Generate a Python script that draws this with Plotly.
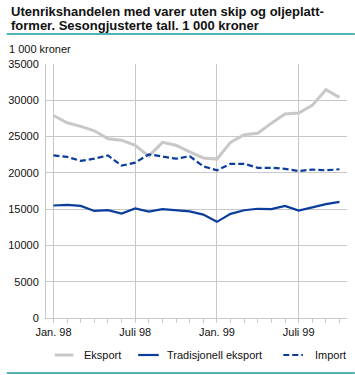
import plotly.graph_objects as go

months = ["Jan. 98", "Feb. 98", "Mar. 98", "Apr. 98", "Mai 98", "Juni 98",
          "Juli 98", "Aug. 98", "Sep. 98", "Okt. 98", "Nov. 98", "Des. 98",
          "Jan. 99", "Feb. 99", "Mar. 99", "Apr. 99", "Mai 99", "Juni 99",
          "Juli 99", "Aug. 99", "Sep. 99", "Okt. 99"]

eksport = [27900, 26900, 26400, 25800, 24700, 24500, 23800, 22300, 24200, 23800,
           22900, 22050, 21900, 24200, 25250, 25450, 26850, 28100, 28250, 29300,
           31450, 30400]
tradisjonell = [15500, 15600, 15450, 14750, 14850, 14400, 15100, 14650, 15000, 14800,
                14700, 14250, 13250, 14350, 14850, 15050, 15000, 15450, 14800, 15250,
                15700, 16000]
importv = [22400, 22200, 21650, 21950, 22400, 21000, 21400, 22550, 22250, 21950,
           22300, 20900, 20350, 21250, 21250, 20700, 20700, 20550, 20250, 20450,
           20350, 20500]

tick_idx = [0, 6, 12, 18]
tick_text = ["Jan. 98", "Juli 98", "Jan. 99", "Juli 99"]
y_ticks = [0, 5000, 10000, 15000, 20000, 25000, 30000, 35000]
series_names = ["Eksport", "Tradisjonell eksport", "Import"]
title_lines = ["Utenrikshandelen med varer uten skip og oljeplatt-",
               "former. Sesongjusterte tall. 1 000 kroner"]

x = list(range(len(months)))
blue = "#0a3d9c"
grey = "#c8c8c8"
teal = "#1a9a9a"
FONT = "Liberation Sans"
import_dash = "6px,3px"

W, H = 355, 375
L, R, T, B = 40, 8, 64, 57
pw, ph = W - L - R, H - T - B

def py2p(py):
    return (H - B - py) / ph

def px2p(pxx):
    return (pxx - L) / pw

fig = go.Figure()
fig.add_trace(go.Scatter(x=x, y=eksport, name=series_names[0], mode="lines",
                         line=dict(color=grey, width=3), hovertext=months, showlegend=False))
fig.add_trace(go.Scatter(x=x, y=tradisjonell, name=series_names[1], mode="lines",
                         line=dict(color=blue, width=2.2), hovertext=months, showlegend=False))
fig.add_trace(go.Scatter(x=x, y=importv, name=series_names[2], mode="lines",
                         line=dict(color=blue, width=2.2, dash=import_dash), hovertext=months,
                         showlegend=False))

annotations = [
    dict(text=title_lines[0], xref="paper", yref="paper", x=px2p(2), xanchor="left",
         y=py2p(12), yanchor="middle", showarrow=False,
         font=dict(family=FONT, size=13, color="#111111", weight="bold")),
    dict(text=title_lines[1], xref="paper", yref="paper", x=px2p(2), xanchor="left",
         y=py2p(25), yanchor="middle", showarrow=False,
         font=dict(family=FONT, size=13, color="#111111", weight="bold")),
    dict(text="1 000 kroner", xref="paper", yref="paper", x=px2p(0), xanchor="left",
         y=py2p(49), yanchor="middle", showarrow=False, font=dict(family=FONT, size=11)),
]

shapes = [
    dict(type="line", xref="paper", yref="paper", x0=px2p(0), x1=px2p(W),
         y0=py2p(34), y1=py2p(34), line=dict(color=teal, width=1.5)),
    dict(type="line", xref="paper", yref="paper", x0=px2p(0), x1=px2p(W),
         y0=py2p(373), y1=py2p(373), line=dict(color=teal, width=1.5)),
]

# legend (manual, to match the reference's compact layout)
leg_y = 355
leg_items = [
    (series_names[0], 49, 68, 77, dict(color=grey, width=3)),
    (series_names[1], 134, 155, 161, dict(color=blue, width=2.2)),
    (series_names[2], 282, 302, 312, dict(color=blue, width=2.2, dash=import_dash)),
]
for name, x0, x1, tx, ln in leg_items:
    shapes.append(dict(type="line", xref="paper", yref="paper", x0=px2p(x0), x1=px2p(x1),
                       y0=py2p(leg_y), y1=py2p(leg_y), line=ln))
    annotations.append(dict(text=name, xref="paper", yref="paper", x=px2p(tx), xanchor="left",
                            y=py2p(leg_y), yanchor="middle", showarrow=False,
                            font=dict(family=FONT, size=11)))

fig.update_layout(
    width=W, height=H,
    margin=dict(l=L, r=R, t=T, b=B),
    paper_bgcolor="white", plot_bgcolor="white",
    font=dict(family=FONT, size=11, color="#111111"),
    showlegend=False,
    xaxis=dict(range=[-0.55, len(months) - 0.45], tickvals=tick_idx, ticktext=tick_text,
               showgrid=True, gridcolor=grey, gridwidth=1,
               showline=True, linecolor=grey, linewidth=1,
               ticks="outside", ticklen=4, tickcolor=grey, zeroline=False,
               minor=dict(dtick=1, tick0=0, ticks="outside", ticklen=4, tickcolor=grey, showgrid=False),
               tickfont=dict(size=11)),
    yaxis=dict(range=[0, 35000], tickvals=y_ticks, ticktext=[str(v) for v in y_ticks],
               showgrid=True, gridcolor=grey, gridwidth=1,
               showline=True, linecolor=grey, linewidth=1,
               ticks="", zeroline=False, ticklabelstandoff=4,
               tickfont=dict(size=11)),
    annotations=annotations,
    shapes=shapes,
)

fig.write_html("out.html", config={"displayModeBar": False},
               post_script="document.body.style.margin='0';document.body.style.overflow='hidden';")
